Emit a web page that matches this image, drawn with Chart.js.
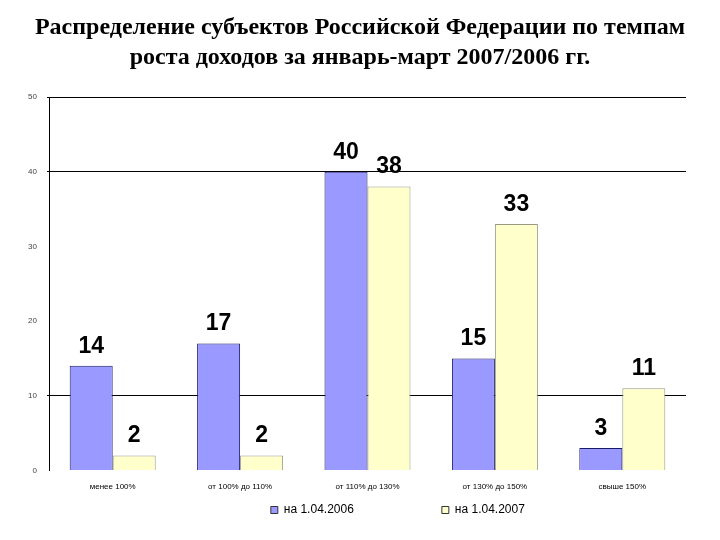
<!DOCTYPE html>
<html>
<head>
<meta charset="utf-8">
<script src="https://cdn.jsdelivr.net/npm/chart.js@4/dist/chart.umd.min.js"></script>
<style>
  html, body { margin: 0; padding: 0; background: #fff; }
  #wrap { width: 720px; height: 540px; }
</style>
</head>
<body>
<div id="wrap"><canvas id="chart" width="720" height="540"></canvas></div>
<script>
// данные с картинки
const categories = ['менее 100%', 'от 100% до 110%', 'от 110% до 130%', 'от 130% до 150%', 'свыше 150%'];
const series2006 = [14, 17, 40, 15, 3];
const series2007 = [2, 2, 38, 33, 11];
const labels = ['на 1.04.2006', 'на 1.04.2007'];
const yTicks = [0, 10, 20, 30, 40, 50];

const titleLines = [
  'Распределение субъектов Российской Федерации по темпам',
  'роста доходов за январь-март 2007/2006 гг.'
];

// подписи значений над столбиками
const valueLabels = {
  id: 'valueLabels',
  afterDatasetsDraw(chart) {
    const ctx = chart.ctx;
    ctx.save();
    ctx.font = 'bold 23px "Liberation Sans", Arial, sans-serif';
    ctx.fillStyle = '#000';
    ctx.textAlign = 'center';
    ctx.textBaseline = 'bottom';
    chart.data.datasets.forEach((ds, i) => {
      chart.getDatasetMeta(i).data.forEach((bar, j) => {
        ctx.fillText(ds.data[j], bar.x, bar.y - 8);
      });
    });
    ctx.restore();
  }
};

const pad = n => ' '.repeat(n);

new Chart(document.getElementById('chart'), {
  type: 'bar',
  data: {
    labels: categories,
    datasets: [
      { label: labels[0], data: series2006, backgroundColor: '#9999FF', borderColor: '#1a1a66', borderWidth: 1 },
      { label: labels[1], data: series2007, backgroundColor: '#FFFFCC', borderColor: '#999988', borderWidth: 1 }
    ]
  },
  options: {
    responsive: false,
    animation: false,
    categoryPercentage: 0.675,
    barPercentage: 1,
    layout: { padding: { left: 22, right: 34, top: 10, bottom: 14 } },
    plugins: {
      title: {
        display: true,
        // пробелы в начале выравнивают центр заголовка по оригиналу
        text: titleLines.map(t => pad(2) + t),
        color: '#000',
        font: { family: '"Liberation Serif", "Times New Roman", serif', size: 24, weight: 'bold', lineHeight: 1.25 },
        padding: { top: 3, bottom: 24 }
      },
      legend: {
        position: 'bottom',
        labels: {
          color: '#000',
          font: { family: '"Liberation Sans", Arial, sans-serif', size: 12 },
          boxWidth: 7, boxHeight: 7, padding: 8,
          generateLabels(chart) {
            // пустой первый элемент сдвигает легенду вправо, как на оригинале
            const items = [{ text: pad(20), fillStyle: 'rgba(0,0,0,0)', strokeStyle: 'rgba(0,0,0,0)', lineWidth: 0, hidden: false }];
            chart.data.datasets.forEach((ds, i) => items.push({
              text: ds.label + (i === 0 ? pad(24) : ''),
              fillStyle: ds.backgroundColor, strokeStyle: '#333', lineWidth: 1,
              datasetIndex: i, hidden: false
            }));
            return items;
          }
        }
      },
      tooltip: { enabled: false }
    },
    scales: {
      x: {
        grid: { display: false },
        border: { display: false },
        ticks: { color: '#000', font: { family: '"Liberation Sans", Arial, sans-serif', size: 8 }, padding: 4 }
      },
      y: {
        min: 0, max: 50,
        afterBuildTicks(axis) { axis.ticks = yTicks.map(v => ({ value: v })); },
        afterFit(axis) { axis.width = 27; },
        grid: {
          color: c => (c.tick.value === 20 || c.tick.value === 30 || c.tick.value === 0) ? 'rgba(0,0,0,0)' : '#000',
          lineWidth: 1, drawTicks: true, tickLength: 2
        },
        border: { display: true, color: '#000', width: 1 },
        ticks: { color: '#444', font: { family: '"Liberation Sans", Arial, sans-serif', size: 8 }, padding: 10 }
      }
    }
  },
  plugins: [valueLabels]
});
</script>
</body>
</html>
